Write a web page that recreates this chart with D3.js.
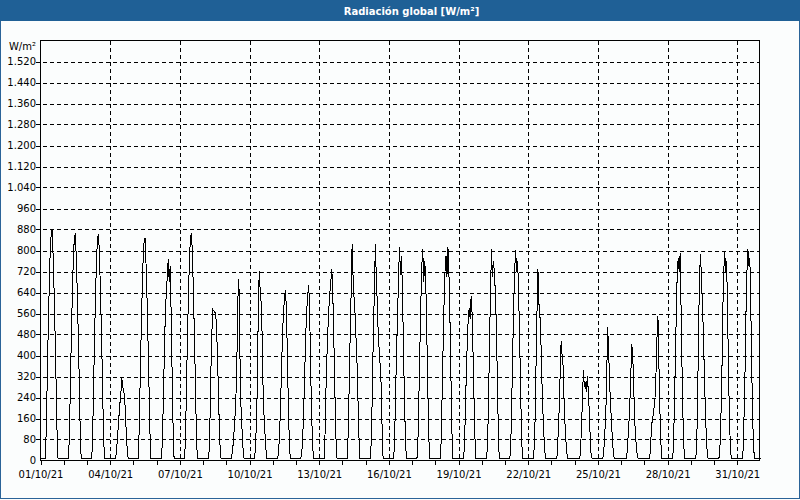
<!DOCTYPE html>
<html>
<head>
<meta charset="utf-8">
<script src="https://cdn.jsdelivr.net/npm/d3@7"></script>
<style>
  body { margin: 0; background: #fff; }
  svg { display: block; }
  text { font-family: "DejaVu Sans", Tahoma, sans-serif; }
</style>
</head>
<body>
<svg id="chart" width="800" height="500"></svg>
<script>
// hourly global radiation (W/m²), hours 6..18 of each day
const hours = [6, 7, 8, 9, 10, 11, 12, 13, 14, 15, 16, 17, 18];
const day01 = [123, 317, 502, 660, 792, 862, 880, 783, 651, 493, 317, 123, 9];
const day02 = [121, 311, 493, 649, 779, 848, 865, 770, 640, 484, 311, 121, 9];
const day03 = [120, 310, 492, 648, 778, 847, 864, 769, 639, 484, 310, 120, 9];
const day04 = [20, 60, 110, 165, 215, 250, 316, 280, 265, 240, 155, 80, 20];
const day05 = [119, 305, 483, 636, 763, 831, 848, 755, 628, 475, 305, 119, 8];
const day06 = [80, 240, 410, 560, 640, 700, 768, 680, 740, 560, 330, 130, 10];
const day07 = [121, 311, 493, 649, 779, 848, 865, 790, 640, 484, 311, 121, 9];
const day08 = [15, 130, 330, 480, 575, 570, 565, 560, 500, 380, 240, 100, 15];
const day09 = [25, 60, 110, 170, 250, 400, 620, 693, 420, 220, 140, 60, 10];
const day10 = [40, 130, 270, 560, 721, 650, 600, 480, 270, 170, 100, 40, 7];
const day11 = [30, 100, 200, 340, 470, 560, 610, 650, 590, 420, 230, 90, 10];
const day12 = [30, 95, 190, 330, 470, 570, 620, 667, 600, 380, 200, 80, 8];
const day13 = [100, 270, 400, 500, 580, 640, 680, 730, 640, 480, 300, 120, 10];
const day14 = [110, 290, 480, 640, 823, 700, 620, 560, 470, 380, 240, 100, 8];
const day15 = [100, 280, 500, 640, 823, 700, 600, 480, 420, 360, 290, 120, 8];
const day16 = [90, 270, 420, 560, 700, 815, 705, 780, 650, 450, 250, 100, 8];
const day17 = [70, 240, 420, 600, 740, 805, 680, 760, 700, 520, 320, 120, 8];
const day18 = [70, 250, 430, 600, 720, 780, 700, 815, 720, 560, 350, 130, 8];
const day19 = [50, 180, 330, 450, 540, 580, 540, 625, 560, 400, 230, 80, 7];
const day20 = [70, 230, 450, 640, 804, 700, 760, 720, 640, 520, 330, 130, 8];
const day21 = [70, 230, 420, 600, 730, 800, 720, 760, 650, 480, 300, 110, 8];
const day22 = [40, 150, 350, 560, 730, 600, 560, 470, 320, 200, 110, 40, 7];
const day23 = [20, 110, 200, 330, 457, 400, 360, 230, 140, 70, 25, 7, 7];
const day24 = [30, 130, 230, 343, 280, 300, 260, 320, 270, 190, 90, 20, 7];
const day25 = [30, 100, 160, 300, 510, 430, 300, 220, 150, 80, 25, 7, 7];
const day26 = [25, 80, 140, 220, 330, 444, 400, 280, 150, 90, 40, 10, 7];
const day27 = [30, 100, 150, 170, 200, 240, 330, 465, 552, 370, 200, 70, 7];
const day28 = [40, 200, 380, 560, 720, 770, 720, 790, 560, 330, 150, 40, 7];
const day29 = [50, 220, 500, 700, 788, 690, 600, 480, 330, 200, 90, 25, 7];
const day30 = [40, 150, 300, 560, 720, 797, 720, 760, 560, 330, 150, 40, 7];
const day31 = [40, 170, 340, 560, 720, 804, 740, 770, 580, 340, 150, 40, 7];
const nightLevel = 7;

const days = [day01, day02, day03, day04, day05, day06, day07, day08, day09, day10,
  day11, day12, day13, day14, day15, day16, day17, day18, day19, day20,
  day21, day22, day23, day24, day25, day26, day27, day28, day29, day30, day31];

const yTicks = [0, 80, 160, 240, 320, 400, 480, 560, 640, 720, 800, 880, 960,
  1040, 1120, 1200, 1280, 1360, 1440, 1520];
const labelDays = [1, 4, 7, 10, 13, 16, 19, 22, 25, 28, 31];

const HOUR = 3600 * 1000;
const points = [{ t: Date.UTC(2021, 9, 1), v: nightLevel }];
days.forEach((vals, i) => {
  const start = Date.UTC(2021, 9, i + 1);
  points.push({ t: start + 5 * HOUR, v: nightLevel });
  hours.forEach((h, j) => points.push({ t: start + h * HOUR, v: vals[j] }));
  points.push({ t: start + 19 * HOUR, v: nightLevel });
});
points.push({ t: Date.UTC(2021, 10, 1), v: nightLevel });

const svg = d3.select('#chart');
const plotL = 40.5, plotR = 760.5, plotT = 40.5, plotB = 460.5;

const x = d3.scaleUtc()
  .domain([new Date(Date.UTC(2021, 9, 1)), new Date(Date.UTC(2021, 10, 1))])
  .range([plotL, plotR]);
const y = d3.scaleLinear().domain([0, 1600]).range([plotB, plotT]);

const es = d3.formatLocale({ decimal: ',', thousands: '.', grouping: [3], currency: ['', ' €'] });
const fmtY = es.format(',d');
const fmtDate = d3.utcFormat('%d/%m/%y');

// background, border and title bar
svg.append('rect').attr('width', 800).attr('height', 500).attr('fill', '#fbfdfd');
svg.append('rect').attr('x', 0.5).attr('y', 0.5).attr('width', 799).attr('height', 498)
  .attr('fill', 'none').attr('stroke', '#2a6398');
svg.append('rect').attr('width', 800).attr('height', 21).attr('fill', '#1f6096');
svg.append('text')
  .attr('x', 411.5).attr('y', 14.5)
  .attr('text-anchor', 'middle')
  .attr('fill', '#fff')
  .style('font-size', '10px')
  .style('font-weight', 'bold')
  .text('Radiación global [W/m²]');

// grid
const dayDates = days.map((d, i) => new Date(Date.UTC(2021, 9, i + 1)));
const gridDates = labelDays.slice(1).map(d => new Date(Date.UTC(2021, 9, d)));

svg.append('g')
  .selectAll('line')
  .data(yTicks.slice(1))
  .enter()
  .append('line')
  .attr('x1', 36).attr('x2', 759)
  .attr('y1', d => Math.round(y(d)) + 0.5).attr('y2', d => Math.round(y(d)) + 0.5)
  .attr('stroke', '#000')
  .attr('stroke-dasharray', '4,3')
  .attr('shape-rendering', 'crispEdges');

svg.append('g')
  .selectAll('line')
  .data(gridDates)
  .enter()
  .append('line')
  .attr('x1', d => Math.round(x(d)) + 0.5).attr('x2', d => Math.round(x(d)) + 0.5)
  .attr('y1', plotT).attr('y2', plotB)
  .attr('stroke', '#000')
  .attr('stroke-dasharray', '4,3')
  .attr('shape-rendering', 'crispEdges');

// x axis: a tick every day, label every third day
const xAxis = svg.append('g')
  .attr('transform', `translate(0,${plotB})`)
  .call(d3.axisBottom(x)
    .tickValues(dayDates)
    .tickSize(4)
    .tickPadding(6)
    .tickFormat(d => labelDays.includes(d.getUTCDate()) ? fmtDate(d) : ''));
xAxis.select('.domain').remove();
xAxis.selectAll('line').attr('shape-rendering', 'crispEdges');
xAxis.selectAll('text').style('font-size', '10px').attr('fill', '#000');

const yAxis = svg.append('g')
  .attr('transform', `translate(${plotL},0)`)
  .call(d3.axisLeft(y).tickValues(yTicks).tickSize(0).tickPadding(4.5).tickFormat(fmtY));
yAxis.select('.domain').remove();
yAxis.selectAll('text').style('font-size', '10px').attr('fill', '#000');

svg.append('text')
  .attr('x', 36).attr('y', 50)
  .attr('text-anchor', 'end')
  .style('font-size', '10px')
  .text('W/m²');

// data line
const line = d3.line()
  .x(d => x(new Date(d.t)))
  .y(d => y(d.v));

svg.append('path')
  .datum(points)
  .attr('fill', 'none')
  .attr('stroke', '#000')
  .attr('stroke-width', 1)
  .attr('shape-rendering', 'crispEdges')
  .attr('d', line);

// frame
svg.append('rect')
  .attr('x', plotL).attr('y', plotT)
  .attr('width', plotR - plotL - 1).attr('height', plotB - plotT)
  .attr('fill', 'none')
  .attr('stroke', '#000')
  .attr('shape-rendering', 'crispEdges');
</script>
</body>
</html>
